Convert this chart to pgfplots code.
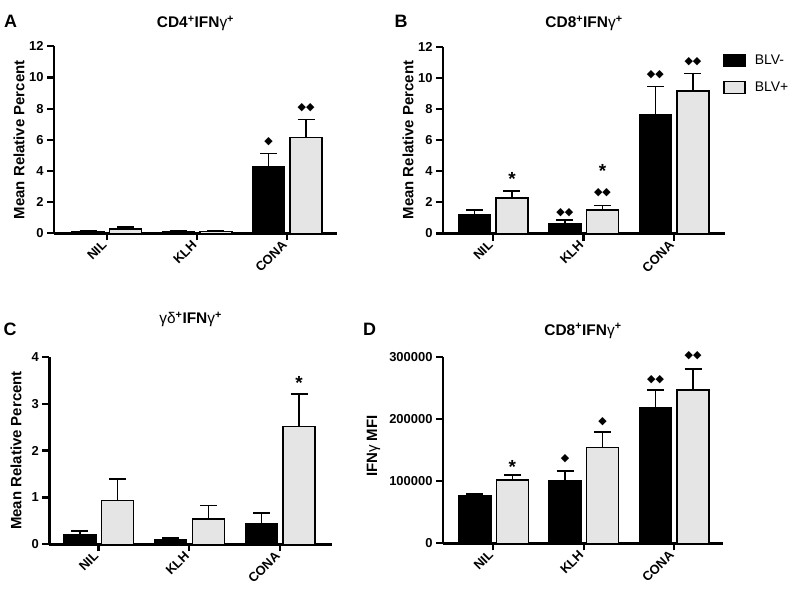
\documentclass[border=0pt]{standalone}
\usepackage{pgfplots}
\pgfplotsset{compat=1.18}
\usepackage{fontspec}
\setmainfont{Liberation Sans}
\newfontfamily\dejavu{DejaVu Sans}
\definecolor{bargrey}{RGB}{229,229,229}

\pgfplotsset{
 panel/.style={
  scale only axis,
  axis lines=left,
  axis line style={line width=2.6bp, -},
  every tick/.style={line width=2.2bp, black},
  tick align=outside,
  major tick length=7bp,
  xtick={0,1,2},
  xticklabels={NIL,KLH,CONA},
  xticklabel style={rotate=45, anchor=east, font=\bfseries\fontsize{13}{13}\selectfont},
  yticklabel style={font=\bfseries\fontsize{13}{13}\selectfont},
  /pgf/number format/assume math mode=true,
  ymin=0,
  clip=false,
  title style={font=\bfseries\fontsize{15.5}{16}\selectfont, anchor=center, at={(0.5,1)}},
  ylabel style={font=\bfseries\fontsize{15}{15}\selectfont, anchor=center},
 },
 errs/.style={error bars/y dir=plus, error bars/y explicit,
  error bars/error bar style={line width=1.6bp, black},
  error bars/error mark options={rotate=90, line width=1.6bp, mark size=8.5bp, black}},
 blk/.style={ybar, bar width=32bp, bar shift=0pt, fill=black, draw=black, line width=1.6bp, errs,
  legend image code/.code={\draw[fill=black, draw=black, line width=1.6bp] (0bp,-6bp) rectangle (21bp,6bp);}},
 gry/.style={ybar, bar width=32bp, bar shift=0pt, fill=bargrey, draw=black, line width=1.6bp, errs,
  legend image code/.code={\draw[fill=bargrey, draw=black, line width=1.6bp] (0bp,-6bp) rectangle (21bp,6bp);}},
 dia/.style={only marks, mark=none, nodes near coords, point meta=explicit symbolic,
  every node near coord/.style={anchor=center, inner sep=0pt, font=\dejavu\fontsize{11}{11}\selectfont}},
 ast/.style={only marks, mark=none, nodes near coords, point meta=explicit symbolic,
  every node near coord/.style={anchor=north, inner sep=0pt, font=\bfseries\fontsize{19}{19}\selectfont}},
}

\begin{document}
\begin{tikzpicture}
\useasboundingbox (0bp,0bp) rectangle (792bp,-589bp);

% ---------- A ----------
\begin{axis}[panel, at={(54bp,-233.3bp)}, anchor=south west,
  width=283bp, height=187bp, xmin=-0.584, xmax=2.553,
  ymax=12, ytick={0,2,4,6,8,10,12},
  title={CD4\textsuperscript{+}IFN{\mdseries γ}\textsuperscript{+}}, title style={yshift=17bp},
  ylabel={Mean Relative Percent}, ylabel style={at={(axis description cs:-0.124,0.5)}}]
\addplot[blk] coordinates {(-0.205,0.12) +- (0,0.06) (0.795,0.12) +- (0,0.04) (1.795,4.25) +- (0,0.88)};
\addplot[gry] coordinates {(0.21,0.27) +- (0,0.15) (1.21,0.12) +- (0,0.04) (2.21,6.15) +- (0,1.15)};
\addplot[dia] coordinates {(1.795,5.86) [◆] (2.21,8.06) [◆◆]};
\end{axis}

% ---------- B ----------
\begin{axis}[panel, at={(443bp,-233.5bp)}, anchor=south west,
  width=282bp, height=186.8bp, xmin=-0.552, xmax=2.564,
  ymax=12, ytick={0,2,4,6,8,10,12},
  title={CD8\textsuperscript{+}IFN{\mdseries γ}\textsuperscript{+}}, title style={yshift=17bp},
  ylabel={Mean Relative Percent}, ylabel style={at={(axis description cs:-0.124,0.5)}},
  legend style={at={(0.993,0.968)}, anchor=north west, draw=none, fill=none, inner sep=0pt,
    font=\fontsize{14}{14}\selectfont, row sep=12bp, column sep=7bp},
  legend cell align=left]
\addplot[blk] coordinates {(-0.205,1.22) +- (0,0.28) (0.795,0.62) +- (0,0.24) (1.795,7.65) +- (0,1.8)};
\addlegendentry{BLV-}
\addplot[gry] coordinates {(0.21,2.27) +- (0,0.45) (1.21,1.52) +- (0,0.28) (2.21,9.17) +- (0,1.12)};
\addlegendentry{BLV+}
\addplot[dia, forget plot] coordinates {(0.795,1.36) [◆◆] (1.21,2.65) [◆◆] (1.795,10.18) [◆◆] (2.21,11.04) [◆◆]};
\addplot[ast, forget plot] coordinates {(0.21,3.93) [*] (1.21,4.46) [*]};
\end{axis}

% ---------- C ----------
\begin{axis}[panel, at={(49.3bp,-544.3bp)}, anchor=south west,
  width=282.7bp, height=187.6bp, xmin=-0.542, xmax=2.573,
  ymax=4, ytick={0,1,2,3,4},
  title={{\mdseries γδ}\textsuperscript{+}IFN{\mdseries γ}\textsuperscript{+}}, title style={yshift=31.7bp},
  ylabel={Mean Relative Percent}, ylabel style={at={(axis description cs:-0.118,0.5)}}]
\addplot[blk] coordinates {(-0.205,0.21) +- (0,0.07) (0.795,0.10) +- (0,0.04) (1.795,0.43) +- (0,0.24)};
\addplot[gry] coordinates {(0.21,0.93) +- (0,0.46) (1.21,0.54) +- (0,0.29) (2.21,2.51) +- (0,0.70)};
\addplot[ast] coordinates {(2.21,3.59) [*]};
\end{axis}

% ---------- D ----------
\begin{axis}[panel, at={(443bp,-543.3bp)}, anchor=south west,
  width=280bp, height=186.6bp, xmin=-0.557, xmax=2.542,
  ymax=300000, ytick={0,100000,200000,300000}, yticklabels={0,100000,200000,300000},
  scaled y ticks=false,
  title={CD8\textsuperscript{+}IFN{\mdseries γ}\textsuperscript{+}}, title style={yshift=19.7bp},
  ylabel={IFN{\mdseries γ} MFI}, ylabel style={at={(axis description cs:-0.248,0.52)}}]
\addplot[blk] coordinates {(-0.205,75800) +- (0,3200) (0.795,100900) +- (0,15500) (1.795,217800) +- (0,28300)};
\addplot[gry] coordinates {(0.21,102000) +- (0,8000) (1.21,153800) +- (0,25600) (2.21,246100) +- (0,33700)};
\addplot[dia] coordinates {(0.795,136600) [◆] (1.21,195400) [◆] (1.795,262500) [◆◆] (2.21,301600) [◆◆]};
\addplot[ast] coordinates {(0.21,133900) [*]};
\end{axis}

\node[font=\bfseries\fontsize{18}{18}\selectfont] at (10.5bp,-21bp) {A};
\node[font=\bfseries\fontsize{18}{18}\selectfont] at (401bp,-21bp) {B};
\node[font=\bfseries\fontsize{18}{18}\selectfont] at (10bp,-329bp) {C};
\node[font=\bfseries\fontsize{18}{18}\selectfont] at (369.5bp,-329bp) {D};
\end{tikzpicture}
\end{document}
